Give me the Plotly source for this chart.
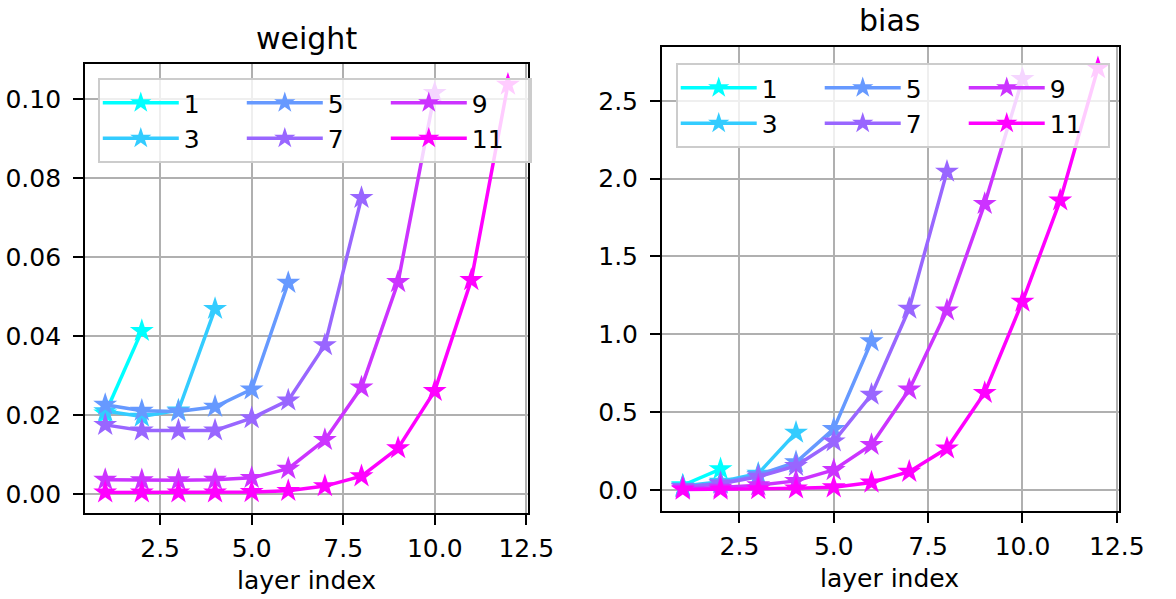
import plotly.graph_objects as go

# ---- data ----
series_names = ["1", "3", "5", "7", "9", "11"]
colors = ["#00FFFF", "#33CCFF", "#6699FF", "#9966FF", "#CC33FF", "#FF00FF"]
legend_groups = ["a", "a", "b", "b", "c", "c"]

layers_1 = [1, 2]
layers_3 = [1, 2, 3, 4]
layers_5 = [1, 2, 3, 4, 5, 6]
layers_7 = [1, 2, 3, 4, 5, 6, 7, 8]
layers_9 = [1, 2, 3, 4, 5, 6, 7, 8, 9, 10]
layers_11 = [1, 2, 3, 4, 5, 6, 7, 8, 9, 10, 11, 12]

weight_1 = [0.0204, 0.0413]
weight_3 = [0.0210, 0.0196, 0.0212, 0.0469]
weight_5 = [0.0226, 0.0211, 0.0209, 0.0221, 0.0265, 0.0535]
weight_7 = [0.0175, 0.0161, 0.0161, 0.0161, 0.0192, 0.0237, 0.0377, 0.0750]
weight_9 = [0.0036, 0.0035, 0.0035, 0.0036, 0.0041, 0.0064, 0.0137, 0.0270, 0.0537, 0.1016]
weight_11 = [0.0004, 0.0004, 0.0004, 0.0004, 0.0005, 0.0008, 0.0020, 0.0045, 0.0116, 0.0261, 0.0542, 0.1037]

bias_1 = [0.030, 0.134]
bias_3 = [0.025, 0.053, 0.105, 0.368]
bias_5 = [0.020, 0.045, 0.096, 0.178, 0.392, 0.955]
bias_7 = [0.018, 0.040, 0.085, 0.155, 0.312, 0.612, 1.165, 2.045]
bias_9 = [0.008, 0.015, 0.030, 0.058, 0.128, 0.290, 0.645, 1.154, 1.838, 2.640]
bias_11 = [0.002, 0.003, 0.005, 0.010, 0.017, 0.048, 0.117, 0.267, 0.624, 1.210, 1.860, 2.710]

layers = [layers_1, layers_3, layers_5, layers_7, layers_9, layers_11]
weights = [weight_1, weight_3, weight_5, weight_7, weight_9, weight_11]
biases = [bias_1, bias_3, bias_5, bias_7, bias_9, bias_11]

FONT = "DejaVu Sans"
W, H = 1176, 599

fig = go.Figure()

for i, name in enumerate(series_names):
    fig.add_trace(go.Scatter(
        x=layers[i], y=weights[i], name=name, mode="lines+markers",
        line=dict(color=colors[i], width=3.5),
        marker=dict(symbol="star", size=18, color=colors[i], line=dict(width=0)),
        legendgroup=legend_groups[i], legend="legend",
        xaxis="x", yaxis="y",
    ))
for i, name in enumerate(series_names):
    fig.add_trace(go.Scatter(
        x=layers[i], y=biases[i], name=name, mode="lines+markers",
        line=dict(color=colors[i], width=3.5),
        marker=dict(symbol="star", size=18, color=colors[i], line=dict(width=0)),
        legendgroup=legend_groups[i] + "2", legend="legend2",
        xaxis="x2", yaxis="y2",
    ))

def px_x(p):
    return p / W

def px_y(p):
    return (H - p) / H

axis_common = dict(
    showline=True, linecolor="black", linewidth=2, mirror=True,
    ticks="outside", ticklen=10, tickwidth=2, tickcolor="black",
    showgrid=True, gridcolor="#b0b0b0", gridwidth=1.6,
    zeroline=False,
    tickfont=dict(family=FONT, size=25, color="black"),
)

leg_common = dict(
    orientation="h", traceorder="grouped",
    bgcolor="rgba(255,255,255,0.8)", bordercolor="#cccccc", borderwidth=2,
    font=dict(family=FONT, size=25, color="black"),
    itemwidth=76, entrywidth=53, tracegroupgap=0,
    xanchor="left", yanchor="top",
)

fig.update_layout(
    width=W, height=H,
    margin=dict(l=0, r=0, t=0, b=0),
    paper_bgcolor="white", plot_bgcolor="white",
    showlegend=True,
    xaxis=dict(domain=[px_x(87), px_x(540)], range=[0.45, 12.55],
               dtick=2.5, tick0=0, tickformat=".1f", anchor="y",
               ticklabelstandoff=2, **axis_common),
    yaxis=dict(domain=[px_y(513), px_y(64)], range=[-0.00482, 0.1089],
               dtick=0.02, tick0=0, tickformat=".2f", anchor="x",
               ticklabelstandoff=7, **axis_common),
    xaxis2=dict(domain=[px_x(677), px_x(1144)], range=[0.45, 12.55],
                dtick=2.5, tick0=0, tickformat=".1f", anchor="y2",
                ticklabelstandoff=2, **axis_common),
    yaxis2=dict(domain=[px_y(511), px_y(47)], range=[-0.1355, 2.8455],
                dtick=0.5, tick0=0, tickformat=".1f", anchor="x2",
                ticklabelstandoff=7, **axis_common),
    legend=dict(x=px_x(100), y=px_y(78), **leg_common),
    legend2=dict(x=px_x(691), y=px_y(63), **leg_common),
    annotations=[
        dict(text="weight", x=px_x(313), y=px_y(39), xref="paper", yref="paper",
             showarrow=False, xanchor="center", yanchor="middle",
             font=dict(family=FONT, size=30, color="black")),
        dict(text="bias", x=px_x(910), y=px_y(21), xref="paper", yref="paper",
             showarrow=False, xanchor="center", yanchor="middle",
             font=dict(family=FONT, size=30, color="black")),
        dict(text="layer index", x=px_x(313), y=px_y(580), xref="paper", yref="paper",
             showarrow=False, xanchor="center", yanchor="middle",
             font=dict(family=FONT, size=25, color="black")),
        dict(text="layer index", x=px_x(910), y=px_y(578), xref="paper", yref="paper",
             showarrow=False, xanchor="center", yanchor="middle",
             font=dict(family=FONT, size=25, color="black")),
    ],
)

fig.write_html("out.html")
